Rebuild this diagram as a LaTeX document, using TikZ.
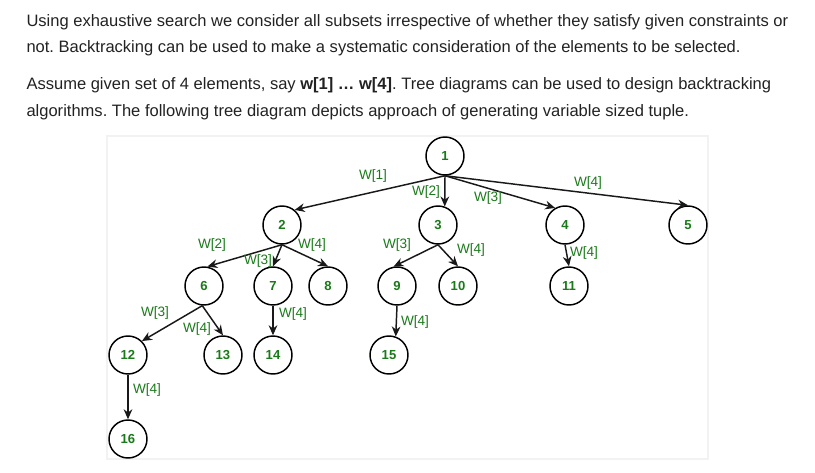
\documentclass[tikz,border=0pt]{standalone}
\usepackage{fontspec}
\setmainfont{Liberation Sans}
\frenchspacing
\usetikzlibrary{arrows.meta}
\definecolor{txtgray}{RGB}{34,34,34}
\definecolor{wgreen}{RGB}{26,122,26}
\definecolor{panelrim}{RGB}{242,242,242}
\tikzset{every picture/.style={line width=0.75pt}}
\tikzset{
  para/.style={anchor=base west, inner sep=0pt, text=txtgray, font=\fontsize{12.4}{14}\selectfont},
  vertex/.style={circle, draw=black, line width=1.1pt, minimum size=28.5pt, inner sep=0pt, text=wgreen, font=\fontsize{9.8}{11}\selectfont\bfseries},
  wlabel/.style={inner sep=0pt, text=wgreen, font=\fontsize{10.2}{12}\selectfont},
  edge/.style={draw=black!90, line width=1.1pt, -{Stealth[length=7.5pt,width=6.5pt]}}
}
\begin{document}
\begin{tikzpicture}[x=0.75pt,y=0.75pt,yscale=-1,xscale=1]
	\useasboundingbox (0,0) rectangle (815,472);

	% Text Node
	\node [para] (line1) at (26,26) {Using exhaustive search we consider all subsets irrespective of whether they satisfy given constraints or};
	\node [para] (line2) at (26,52) {not. Backtracking can be used to make a systematic consideration of the elements to be selected.};
	\node [para] (line3) at (26,89) {Assume given set of 4 elements, say \textbf{w[1] … w[4]}. Tree diagrams can be used to design backtracking};
	\node [para] (line4) at (26,116) {algorithms. The following tree diagram depicts approach of generating variable sized tuple.};

	%Shape: Rectangle [id:panel]
	\draw [draw=panelrim, fill=white, line width=1.5pt] (107,136) rectangle (708,459);

	%Shape: Circle
	\node [vertex] (n1) at (445,156) {1};
	\node [vertex] (n2) at (282,225) {2};
	\node [vertex] (n3) at (438,225) {3};
	\node [vertex] (n4) at (565,225) {4};
	\node [vertex] (n5) at (688,225) {5};
	\node [vertex] (n6) at (204,286) {6};
	\node [vertex] (n7) at (273,286) {7};
	\node [vertex] (n8) at (328,286) {8};
	\node [vertex] (n9) at (397,286) {9};
	\node [vertex] (n10) at (458,286) {10};
	\node [vertex] (n11) at (569,286) {11};
	\node [vertex] (n12) at (128,355) {12};
	\node [vertex] (n13) at (223,355) {13};
	\node [vertex] (n14) at (273,355) {14};
	\node [vertex] (n15) at (389,355) {15};
	\node [vertex] (n16) at (128,439) {16};

	%Straight Lines
	\draw [edge] (n1.south) -- (n2.50);
	\draw [edge] (n1.south) -- (n3.70);
	\draw [edge] (n1.south) -- (n4.120);
	\draw [edge] (n1.south) -- (n5.north);
	\draw [edge] (n2.south) -- (n6.80);
	\draw [edge] (n2.south) -- (n7.north);
	\draw [edge] (n2.south) -- (n8.north);
	\draw [edge] (n3.south) -- (n9.100);
	\draw [edge] (n3.south) -- (n10.north);
	\draw [edge] (n4.south) -- (n11.north);
	\draw [edge] (n6.265) -- (n12.45);
	\draw [edge] (n6.265) -- (n13.north);
	\draw [edge] (n7.south) -- (n14.north);
	\draw [edge] (n9.south) -- (n15.70);
	\draw [edge] (n12.south) -- (n16.north);

	% Text Node
	\node [wlabel] (w12) at (373,176) {W[1]};
	\node [wlabel] (w13) at (426,192) {W[2]};
	\node [wlabel] (w14) at (488,198) {W[3]};
	\node [wlabel] (w15) at (588,183) {W[4]};
	\node [wlabel] (w26) at (212,245) {W[2]};
	\node [wlabel] (w27) at (258,261) {W[3]};
	\node [wlabel] (w28) at (312,245) {W[4]};
	\node [wlabel] (w39) at (397,245) {W[3]};
	\node [wlabel] (w310) at (471,250) {W[4]};
	\node [wlabel] (w411) at (584,253) {W[4]};
	\node [wlabel] (w612) at (155,313) {W[3]};
	\node [wlabel] (w613) at (197,329) {W[4]};
	\node [wlabel] (w714) at (293,314) {W[4]};
	\node [wlabel] (w915) at (415,322) {W[4]};
	\node [wlabel] (w1216) at (147,390) {W[4]};

\end{tikzpicture}
\end{document}
